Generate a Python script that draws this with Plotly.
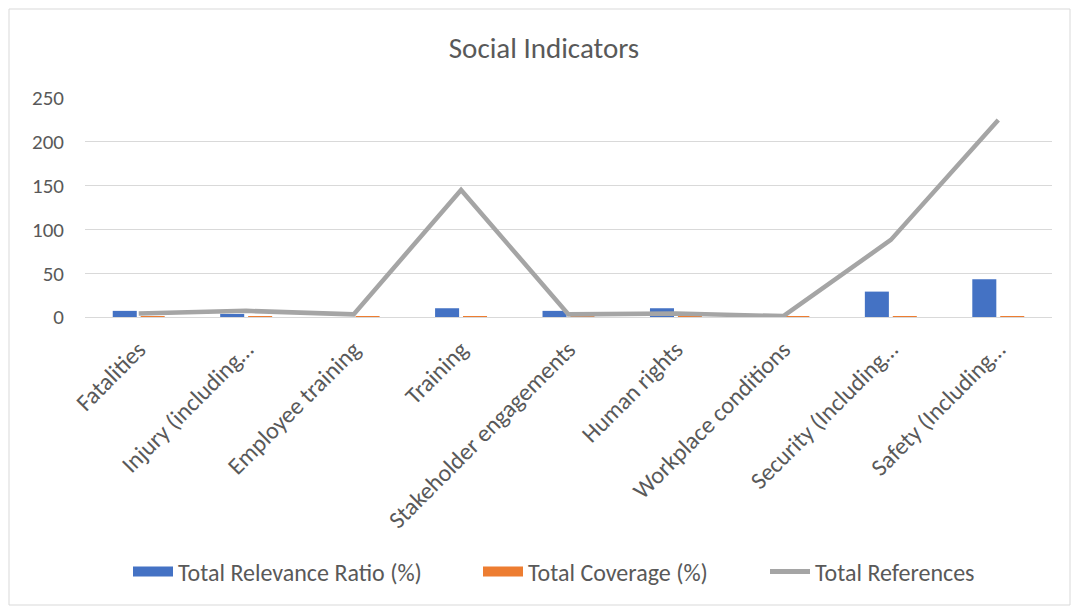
import plotly.graph_objects as go

categories = ["Fatalities", "Injury (including…", "Employee training", "Training",
              "Stakeholder engagements", "Human rights", "Workplace conditions",
              "Security (Including…", "Safety (Including…"]
relevance = [7, 3.5, 0, 10, 7, 10, 0, 29, 43]
coverage = [0.2, 0.2, 0.1, 0.2, 0.2, 0.2, 0.1, 0.5, 1.0]
references = [4, 7, 3, 145, 3, 4, 1, 88, 225]
yticks = [0, 50, 100, 150, 200, 250]
series_names = ["Total Relevance Ratio (%)", "Total Coverage (%)", "Total References"]
colors = ["#4472C4", "#ED7D31", "#A5A5A5"]

FONT = "Carlito, 'Liberation Sans Narrow', 'Open Sans', sans-serif"
W, H = 1071, 606
L, R, T, B = 85, 19, 98, 289
pw, ph = W - L - R, H - T - B

def px_x(x):
    return (x - L) / pw

def px_y(y):
    return (H - B - y) / ph

fig = go.Figure()
fig.add_bar(x=categories, y=relevance, name=series_names[0], showlegend=False,
            marker=dict(color=colors[0], line=dict(width=0)))
fig.add_bar(x=categories, y=coverage, name=series_names[1], showlegend=False,
            marker=dict(color=colors[1], line=dict(width=0)))
fig.add_scatter(x=categories, y=references, name=series_names[2], mode="lines",
                showlegend=False, line=dict(color=colors[2], width=4.5))

# legend entries, each in its own legend box so spacing matches the original
legend_ids = ["legend", "legend2", "legend3"]
legend_px = [128, 478, 765]
for i, nm in enumerate(series_names):
    fig.add_scatter(x=[None], y=[None], mode="lines", name=nm, legend=legend_ids[i],
                    line=dict(color=colors[i], width=14 if i < 2 else 5))

legend_common = dict(orientation="h", xanchor="left", y=px_y(572), yanchor="middle",
                     font=dict(size=24, color="#595959"), itemwidth=40,
                     bgcolor="rgba(0,0,0,0)")

fig.update_layout(
    width=W, height=H,
    margin=dict(l=L, r=R, t=T, b=B),
    paper_bgcolor="white", plot_bgcolor="white",
    font=dict(family=FONT, color="#595959", size=21),
    title=dict(text="Social Indicators", xref="container", x=544 / W, xanchor="center",
               y=1 - 48 / H, yanchor="middle", font=dict(size=29, color="#595959")),
    barmode="group", bargap=0.48, bargroupgap=0.14,
    xaxis=dict(tickangle=-45, showgrid=False, showline=True, linecolor="#D9D9D9",
               linewidth=1, ticks="", tickfont=dict(size=24), ticklabelstandoff=8),
    yaxis=dict(range=[0, 250], tickvals=yticks, showgrid=True, gridcolor="#D9D9D9",
               gridwidth=1, zeroline=False, showline=False, ticks="",
               tickfont=dict(size=21), ticklabelstandoff=20),
    legend=dict(legend_common, x=px_x(legend_px[0])),
    legend2=dict(legend_common, x=px_x(legend_px[1])),
    legend3=dict(legend_common, x=px_x(legend_px[2])),
    showlegend=True,
    shapes=[dict(type="rect", xref="paper", yref="paper",
                 x0=px_x(9), x1=px_x(1070), y0=px_y(605), y1=px_y(9),
                 line=dict(color="#D9D9D9", width=1), fillcolor="rgba(0,0,0,0)", layer="below")],
)

fig.write_html("out.html")
